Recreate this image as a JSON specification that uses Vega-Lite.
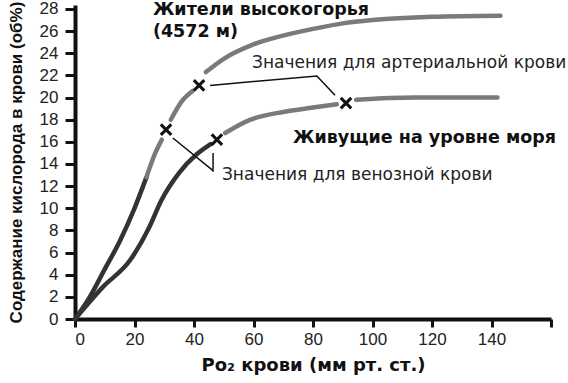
{
  "$schema": "https://vega.github.io/schema/vega-lite/v6.json",
  "width": 476,
  "height": 314,
  "autosize": "none",
  "padding": {"left": 75, "top": 5, "right": 17, "bottom": 64},
  "background": "white",
  "config": {"view": {"stroke": null}, "font": "Liberation Sans"},
  "datasets": {
    "curves": [
      {"x": 0, "y": 0, "seg": "H1", "tone": "dark", "o": 1},
      {"x": 5, "y": 2, "seg": "H1", "tone": "dark", "o": 2},
      {"x": 10, "y": 4.5, "seg": "H1", "tone": "dark", "o": 3},
      {"x": 15, "y": 7, "seg": "H1", "tone": "dark", "o": 4},
      {"x": 20, "y": 10, "seg": "H1", "tone": "dark", "o": 5},
      {"x": 24, "y": 12.8, "seg": "H1", "tone": "dark", "o": 6},
      {"x": 24, "y": 12.8, "seg": "H2", "tone": "gray", "o": 1},
      {"x": 27, "y": 15, "seg": "H2", "tone": "gray", "o": 2},
      {"x": 29.2, "y": 16.2, "seg": "H2", "tone": "gray", "o": 3},
      {"x": 32.2, "y": 18, "seg": "H3", "tone": "gray", "o": 1},
      {"x": 36, "y": 19.7, "seg": "H3", "tone": "gray", "o": 2},
      {"x": 39.5, "y": 20.6, "seg": "H3", "tone": "gray", "o": 3},
      {"x": 44, "y": 22.3, "seg": "H4", "tone": "gray", "o": 1},
      {"x": 50, "y": 23.5, "seg": "H4", "tone": "gray", "o": 2},
      {"x": 60, "y": 24.8, "seg": "H4", "tone": "gray", "o": 3},
      {"x": 70, "y": 25.6, "seg": "H4", "tone": "gray", "o": 4},
      {"x": 80, "y": 26.2, "seg": "H4", "tone": "gray", "o": 5},
      {"x": 90, "y": 26.7, "seg": "H4", "tone": "gray", "o": 6},
      {"x": 100, "y": 27, "seg": "H4", "tone": "gray", "o": 7},
      {"x": 120, "y": 27.3, "seg": "H4", "tone": "gray", "o": 8},
      {"x": 143, "y": 27.4, "seg": "H4", "tone": "gray", "o": 9},
      {"x": 0, "y": 0, "seg": "S1", "tone": "dark", "o": 1},
      {"x": 9.4, "y": 2.9, "seg": "S1", "tone": "dark", "o": 2},
      {"x": 18.5, "y": 5.3, "seg": "S1", "tone": "dark", "o": 3},
      {"x": 25, "y": 8.3, "seg": "S1", "tone": "dark", "o": 4},
      {"x": 29, "y": 10.7, "seg": "S1", "tone": "dark", "o": 5},
      {"x": 35, "y": 13.2, "seg": "S1", "tone": "dark", "o": 6},
      {"x": 41, "y": 14.9, "seg": "S1", "tone": "dark", "o": 7},
      {"x": 45.6, "y": 15.8, "seg": "S1", "tone": "dark", "o": 8},
      {"x": 50.5, "y": 16.8, "seg": "S2", "tone": "gray", "o": 1},
      {"x": 59, "y": 18, "seg": "S2", "tone": "gray", "o": 2},
      {"x": 70, "y": 18.7, "seg": "S2", "tone": "gray", "o": 3},
      {"x": 80, "y": 19.1, "seg": "S2", "tone": "gray", "o": 4},
      {"x": 88, "y": 19.4, "seg": "S2", "tone": "gray", "o": 5},
      {"x": 94.5, "y": 19.8, "seg": "S3", "tone": "gray", "o": 1},
      {"x": 114, "y": 20, "seg": "S3", "tone": "gray", "o": 2},
      {"x": 142, "y": 20, "seg": "S3", "tone": "gray", "o": 3}
    ],
    "marks": [
      {"x": 30.6, "y": 17.1},
      {"x": 41.7, "y": 21.1},
      {"x": 47.7, "y": 16.2},
      {"x": 91.1, "y": 19.5}
    ],
    "leaders": [
      {"x": 45.4, "y": 21.1, "g": "a", "o": 1},
      {"x": 81.3, "y": 21.95, "g": "a", "o": 2},
      {"x": 87.4, "y": 20.2, "g": "a", "o": 3},
      {"x": 32.9, "y": 16.35, "g": "b", "o": 1},
      {"x": 46.4, "y": 13.4, "g": "b", "o": 2},
      {"x": 46.4, "y": 15.0, "g": "c", "o": 1},
      {"x": 46.4, "y": 13.3, "g": "c", "o": 2}
    ],
    "boldlabels": [
      {"x": 26.2, "y": 27.9, "text": "Жители высокогорья"},
      {"x": 26.2, "y": 25.9, "text": "(4572 м)"},
      {"x": 73.3, "y": 16.35, "text": "Живущие на уровне моря"}
    ],
    "labels": [
      {"x": 59.5, "y": 23.1, "text": "Значения для артериальной крови"},
      {"x": 49.4, "y": 13.0, "text": "Значения для венозной крови"}
    ]
  },
  "encoding": {
    "x": {
      "field": "x", "type": "quantitative",
      "scale": {"domain": [0, 160], "nice": false},
      "axis": {
        "values": [0, 20, 40, 60, 80, 100, 120, 140, 160],
        "labelExpr": "datum.value == 160 ? '' : datum.label",
        "title": "Po₂ крови (мм рт. ст.)",
        "titleFont": "DejaVu Sans", "titleFontSize": 18, "titleFontWeight": "bold", "titleColor": "#111",
        "titlePadding": 9,
        "labelFont": "Liberation Sans", "labelFontSize": 17, "labelColor": "#222", "labelPadding": 4,
        "labelOverlap": false,
        "domainColor": "#111", "domainWidth": 4,
        "tickColor": "#111", "tickWidth": 3, "tickSize": 8,
        "grid": false
      }
    },
    "y": {
      "field": "y", "type": "quantitative",
      "scale": {"domain": [0, 28.36], "nice": false},
      "axis": {
        "values": [0, 2, 4, 6, 8, 10, 12, 14, 16, 18, 20, 22, 24, 26, 28],
        "title": "Содержание кислорода в крови (об%)",
        "titleFont": "Liberation Sans", "titleFontSize": 17, "titleFontWeight": "bold", "titleColor": "#111",
        "titlePadding": 14,
        "labelFont": "Liberation Sans", "labelFontSize": 17, "labelColor": "#222", "labelPadding": 7,
        "labelOverlap": false,
        "domainColor": "#111", "domainWidth": 4,
        "tickColor": "#111", "tickWidth": 3, "tickSize": 10,
        "grid": false
      }
    }
  },
  "layer": [
    {
      "data": {"name": "curves"},
      "mark": {"type": "line", "strokeWidth": 4.5, "strokeCap": "round", "interpolate": "monotone"},
      "encoding": {
        "detail": {"field": "seg"},
        "order": {"field": "o"},
        "color": {
          "field": "tone", "type": "nominal",
          "scale": {"domain": ["dark", "gray"], "range": ["#333333", "#7a7a7a"]},
          "legend": null
        }
      }
    },
    {
      "data": {"name": "leaders"},
      "mark": {"type": "line", "strokeWidth": 1.5, "color": "#111"},
      "encoding": {
        "detail": {"field": "g"},
        "order": {"field": "o"}
      }
    },
    {
      "data": {"name": "marks"},
      "mark": {"type": "point", "shape": "M-1,-1L1,1M-1,1L1,-1", "size": 110, "strokeWidth": 3, "filled": false, "color": "#111", "opacity": 1},
      "encoding": {}
    },
    {
      "data": {"name": "boldlabels"},
      "mark": {"type": "text", "align": "left", "baseline": "middle", "font": "DejaVu Sans", "fontWeight": "bold", "fontSize": 17.5, "color": "#111"},
      "encoding": {"text": {"field": "text"}}
    },
    {
      "data": {"name": "labels"},
      "mark": {"type": "text", "align": "left", "baseline": "middle", "font": "DejaVu Sans", "fontSize": 17, "color": "#222"},
      "encoding": {"text": {"field": "text"}}
    }
  ]
}
